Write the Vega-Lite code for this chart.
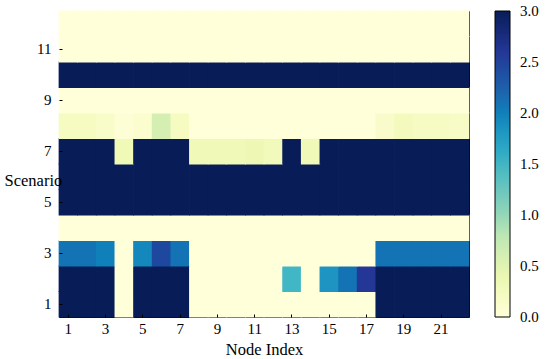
{
  "$schema": "https://vega.github.io/schema/vega-lite/v6.json",
  "autosize": {"type": "none"},
  "padding": {"left": 59, "top": 11, "right": 81, "bottom": 42},
  "width": 410,
  "height": 306,
  "config": {
    "font": "Liberation Serif",
    "view": {"stroke": "black", "strokeWidth": 1},
    "axis": {"labelFont": "Liberation Serif", "titleFont": "Liberation Serif", "labelFontSize": 15, "titleFontSize": 16.5, "labelColor": "black", "titleColor": "black", "titleFontWeight": "normal", "domain": false, "grid": false, "tickColor": "black", "tickSize": -3},
    "legend": {"labelFont": "Liberation Serif", "labelFontSize": 15, "labelColor": "black"}
  },
  "data": {"values": [
    {"n":1,"s":1,"v":3},{"n":2,"s":1,"v":3},{"n":3,"s":1,"v":3},{"n":4,"s":1,"v":0},{"n":5,"s":1,"v":3},{"n":6,"s":1,"v":3},{"n":7,"s":1,"v":3},{"n":8,"s":1,"v":0},{"n":9,"s":1,"v":0},{"n":10,"s":1,"v":0},{"n":11,"s":1,"v":0},{"n":12,"s":1,"v":0},{"n":13,"s":1,"v":0},{"n":14,"s":1,"v":0},{"n":15,"s":1,"v":0},{"n":16,"s":1,"v":0},{"n":17,"s":1,"v":0},{"n":18,"s":1,"v":3},{"n":19,"s":1,"v":3},{"n":20,"s":1,"v":3},{"n":21,"s":1,"v":3},{"n":22,"s":1,"v":3},
    {"n":1,"s":2,"v":3},{"n":2,"s":2,"v":3},{"n":3,"s":2,"v":3},{"n":4,"s":2,"v":0},{"n":5,"s":2,"v":3},{"n":6,"s":2,"v":3},{"n":7,"s":2,"v":3},{"n":8,"s":2,"v":0},{"n":9,"s":2,"v":0},{"n":10,"s":2,"v":0},{"n":11,"s":2,"v":0},{"n":12,"s":2,"v":0},{"n":13,"s":2,"v":1.5},{"n":14,"s":2,"v":0},{"n":15,"s":2,"v":1.85},{"n":16,"s":2,"v":2.1},{"n":17,"s":2,"v":2.6},{"n":18,"s":2,"v":3},{"n":19,"s":2,"v":3},{"n":20,"s":2,"v":3},{"n":21,"s":2,"v":3},{"n":22,"s":2,"v":3},
    {"n":1,"s":3,"v":2.1},{"n":2,"s":3,"v":2.1},{"n":3,"s":3,"v":2.0},{"n":4,"s":3,"v":0},{"n":5,"s":3,"v":1.95},{"n":6,"s":3,"v":2.45},{"n":7,"s":3,"v":2.1},{"n":8,"s":3,"v":0},{"n":9,"s":3,"v":0},{"n":10,"s":3,"v":0},{"n":11,"s":3,"v":0},{"n":12,"s":3,"v":0},{"n":13,"s":3,"v":0},{"n":14,"s":3,"v":0},{"n":15,"s":3,"v":0},{"n":16,"s":3,"v":0},{"n":17,"s":3,"v":0},{"n":18,"s":3,"v":2.1},{"n":19,"s":3,"v":2.1},{"n":20,"s":3,"v":2.1},{"n":21,"s":3,"v":2.1},{"n":22,"s":3,"v":2.1},
    {"n":1,"s":4,"v":0},{"n":2,"s":4,"v":0},{"n":3,"s":4,"v":0},{"n":4,"s":4,"v":0},{"n":5,"s":4,"v":0},{"n":6,"s":4,"v":0},{"n":7,"s":4,"v":0},{"n":8,"s":4,"v":0},{"n":9,"s":4,"v":0},{"n":10,"s":4,"v":0},{"n":11,"s":4,"v":0},{"n":12,"s":4,"v":0},{"n":13,"s":4,"v":0},{"n":14,"s":4,"v":0},{"n":15,"s":4,"v":0},{"n":16,"s":4,"v":0},{"n":17,"s":4,"v":0},{"n":18,"s":4,"v":0},{"n":19,"s":4,"v":0},{"n":20,"s":4,"v":0},{"n":21,"s":4,"v":0},{"n":22,"s":4,"v":0},
    {"n":1,"s":5,"v":3},{"n":2,"s":5,"v":3},{"n":3,"s":5,"v":3},{"n":4,"s":5,"v":3},{"n":5,"s":5,"v":3},{"n":6,"s":5,"v":3},{"n":7,"s":5,"v":3},{"n":8,"s":5,"v":3},{"n":9,"s":5,"v":3},{"n":10,"s":5,"v":3},{"n":11,"s":5,"v":3},{"n":12,"s":5,"v":3},{"n":13,"s":5,"v":3},{"n":14,"s":5,"v":3},{"n":15,"s":5,"v":3},{"n":16,"s":5,"v":3},{"n":17,"s":5,"v":3},{"n":18,"s":5,"v":3},{"n":19,"s":5,"v":3},{"n":20,"s":5,"v":3},{"n":21,"s":5,"v":3},{"n":22,"s":5,"v":3},
    {"n":1,"s":6,"v":3},{"n":2,"s":6,"v":3},{"n":3,"s":6,"v":3},{"n":4,"s":6,"v":3},{"n":5,"s":6,"v":3},{"n":6,"s":6,"v":3},{"n":7,"s":6,"v":3},{"n":8,"s":6,"v":3},{"n":9,"s":6,"v":3},{"n":10,"s":6,"v":3},{"n":11,"s":6,"v":3},{"n":12,"s":6,"v":3},{"n":13,"s":6,"v":3},{"n":14,"s":6,"v":3},{"n":15,"s":6,"v":3},{"n":16,"s":6,"v":3},{"n":17,"s":6,"v":3},{"n":18,"s":6,"v":3},{"n":19,"s":6,"v":3},{"n":20,"s":6,"v":3},{"n":21,"s":6,"v":3},{"n":22,"s":6,"v":3},
    {"n":1,"s":7,"v":3},{"n":2,"s":7,"v":3},{"n":3,"s":7,"v":3},{"n":4,"s":7,"v":0.33},{"n":5,"s":7,"v":3},{"n":6,"s":7,"v":3},{"n":7,"s":7,"v":3},{"n":8,"s":7,"v":0.3},{"n":9,"s":7,"v":0.32},{"n":10,"s":7,"v":0.3},{"n":11,"s":7,"v":0.35},{"n":12,"s":7,"v":0.28},{"n":13,"s":7,"v":3},{"n":14,"s":7,"v":0.3},{"n":15,"s":7,"v":3},{"n":16,"s":7,"v":3},{"n":17,"s":7,"v":3},{"n":18,"s":7,"v":3},{"n":19,"s":7,"v":3},{"n":20,"s":7,"v":3},{"n":21,"s":7,"v":3},{"n":22,"s":7,"v":3},
    {"n":1,"s":8,"v":0.22},{"n":2,"s":8,"v":0.22},{"n":3,"s":8,"v":0.16},{"n":4,"s":8,"v":0.03},{"n":5,"s":8,"v":0.1},{"n":6,"s":8,"v":0.6},{"n":7,"s":8,"v":0.22},{"n":8,"s":8,"v":0},{"n":9,"s":8,"v":0},{"n":10,"s":8,"v":0},{"n":11,"s":8,"v":0},{"n":12,"s":8,"v":0},{"n":13,"s":8,"v":0},{"n":14,"s":8,"v":0},{"n":15,"s":8,"v":0},{"n":16,"s":8,"v":0},{"n":17,"s":8,"v":0},{"n":18,"s":8,"v":0.14},{"n":19,"s":8,"v":0.25},{"n":20,"s":8,"v":0.2},{"n":21,"s":8,"v":0.2},{"n":22,"s":8,"v":0.18},
    {"n":1,"s":9,"v":0},{"n":2,"s":9,"v":0},{"n":3,"s":9,"v":0},{"n":4,"s":9,"v":0},{"n":5,"s":9,"v":0},{"n":6,"s":9,"v":0},{"n":7,"s":9,"v":0},{"n":8,"s":9,"v":0},{"n":9,"s":9,"v":0},{"n":10,"s":9,"v":0},{"n":11,"s":9,"v":0},{"n":12,"s":9,"v":0},{"n":13,"s":9,"v":0},{"n":14,"s":9,"v":0},{"n":15,"s":9,"v":0},{"n":16,"s":9,"v":0},{"n":17,"s":9,"v":0},{"n":18,"s":9,"v":0},{"n":19,"s":9,"v":0},{"n":20,"s":9,"v":0},{"n":21,"s":9,"v":0},{"n":22,"s":9,"v":0},
    {"n":1,"s":10,"v":3},{"n":2,"s":10,"v":3},{"n":3,"s":10,"v":3},{"n":4,"s":10,"v":3},{"n":5,"s":10,"v":3},{"n":6,"s":10,"v":3},{"n":7,"s":10,"v":3},{"n":8,"s":10,"v":3},{"n":9,"s":10,"v":3},{"n":10,"s":10,"v":3},{"n":11,"s":10,"v":3},{"n":12,"s":10,"v":3},{"n":13,"s":10,"v":3},{"n":14,"s":10,"v":3},{"n":15,"s":10,"v":3},{"n":16,"s":10,"v":3},{"n":17,"s":10,"v":3},{"n":18,"s":10,"v":3},{"n":19,"s":10,"v":3},{"n":20,"s":10,"v":3},{"n":21,"s":10,"v":3},{"n":22,"s":10,"v":3},
    {"n":1,"s":11,"v":0},{"n":2,"s":11,"v":0},{"n":3,"s":11,"v":0},{"n":4,"s":11,"v":0},{"n":5,"s":11,"v":0},{"n":6,"s":11,"v":0},{"n":7,"s":11,"v":0},{"n":8,"s":11,"v":0},{"n":9,"s":11,"v":0},{"n":10,"s":11,"v":0},{"n":11,"s":11,"v":0},{"n":12,"s":11,"v":0},{"n":13,"s":11,"v":0},{"n":14,"s":11,"v":0},{"n":15,"s":11,"v":0},{"n":16,"s":11,"v":0},{"n":17,"s":11,"v":0},{"n":18,"s":11,"v":0},{"n":19,"s":11,"v":0},{"n":20,"s":11,"v":0},{"n":21,"s":11,"v":0},{"n":22,"s":11,"v":0},
    {"n":1,"s":12,"v":0},{"n":2,"s":12,"v":0},{"n":3,"s":12,"v":0},{"n":4,"s":12,"v":0},{"n":5,"s":12,"v":0},{"n":6,"s":12,"v":0},{"n":7,"s":12,"v":0},{"n":8,"s":12,"v":0},{"n":9,"s":12,"v":0},{"n":10,"s":12,"v":0},{"n":11,"s":12,"v":0},{"n":12,"s":12,"v":0},{"n":13,"s":12,"v":0},{"n":14,"s":12,"v":0},{"n":15,"s":12,"v":0},{"n":16,"s":12,"v":0},{"n":17,"s":12,"v":0},{"n":18,"s":12,"v":0},{"n":19,"s":12,"v":0},{"n":20,"s":12,"v":0},{"n":21,"s":12,"v":0},{"n":22,"s":12,"v":0}
  ]},
  "mark": {"type": "rect", "strokeWidth": 0, "width": {"band": 1.04}, "height": {"band": 1.04}},
  "encoding": {
    "x": {"field": "n", "type": "ordinal", "sort": "ascending",
      "scale": {"paddingInner": 0, "paddingOuter": 0},
      "axis": {"values": [1,3,5,7,9,11,13,15,17,19,21], "labelAngle": 0, "title": "Node Index", "labelPadding": 7, "titlePadding": 5, "zindex": 1}},
    "y": {"field": "s", "type": "ordinal", "sort": "descending",
      "scale": {"paddingInner": 0, "paddingOuter": 0},
      "axis": {"values": [1,3,5,7,9,11], "title": "Scenario", "titleAngle": 0, "titleX": -55, "titleY": 169, "titleAlign": "left", "titleBaseline": "middle", "labelPadding": 11, "zindex": 1}},
    "color": {"field": "v", "type": "quantitative",
      "scale": {"domain": [0, 0.375, 0.75, 1.125, 1.5, 1.875, 2.25, 2.625, 3], "range": ["#ffffd9","#edf8b1","#c7e9b4","#7fcdbb","#41b6c4","#1d91c0","#225ea8","#253494","#081d58"]},
      "legend": {"type": "gradient", "title": null, "orient": "right", "offset": 26, "gradientLength": 306, "gradientThickness": 15, "gradientStrokeColor": "black", "gradientStrokeWidth": 1, "values": [0, 0.5, 1, 1.5, 2, 2.5, 3], "format": ".1f", "labelOffset": 10, "labelFont": "Liberation Serif", "labelFontSize": 15,
        "encode": {"labels": {"update": {"baseline": {"value": "middle"}, "font": {"value": "Liberation Serif"}}}}}
    }
  }
}
